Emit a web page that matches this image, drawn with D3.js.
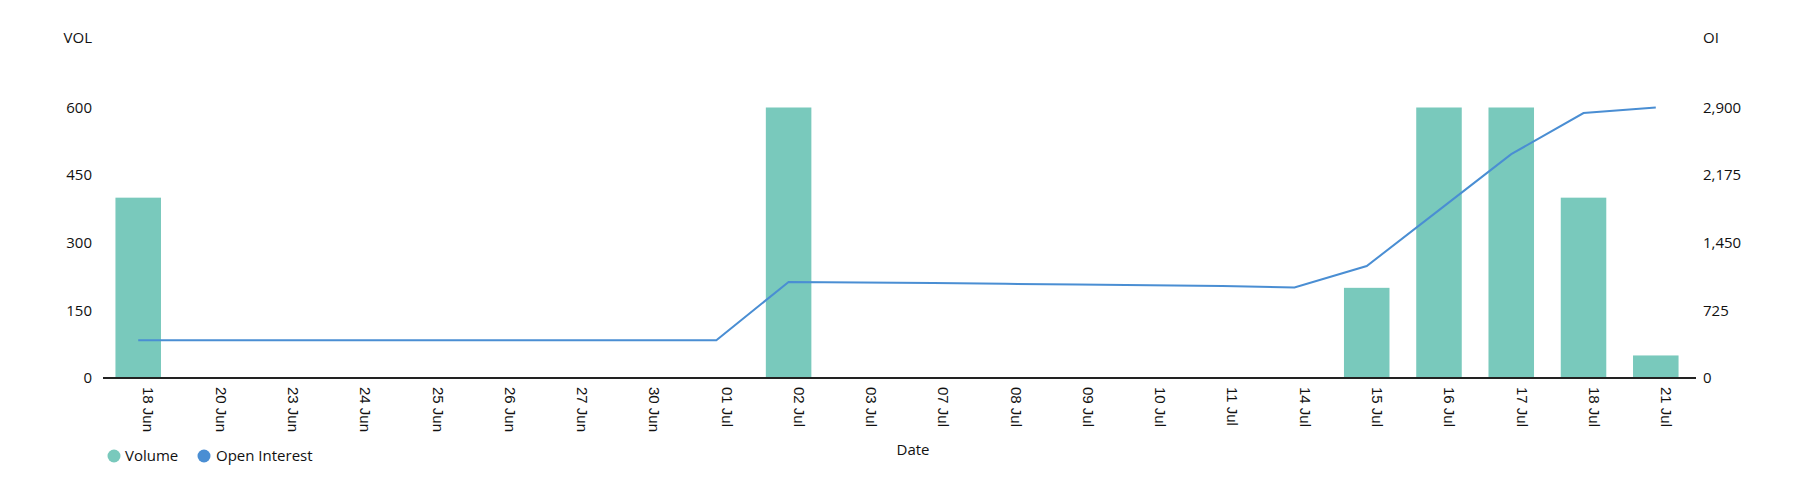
<!DOCTYPE html>
<html>
<head>
<meta charset="utf-8">
<script src="https://cdn.jsdelivr.net/npm/d3@7"></script>
<style>
  html, body { margin: 0; padding: 0; background: #fff; }
  svg { display: block; font-family: "Open Sans", sans-serif; }
</style>
</head>
<body>
<svg id="chart" width="1800" height="480"></svg>
<script>
const categories = ["18 Jun","20 Jun","23 Jun","24 Jun","25 Jun","26 Jun","27 Jun","30 Jun","01 Jul","02 Jul","03 Jul","07 Jul","08 Jul","09 Jul","10 Jul","11 Jul","14 Jul","15 Jul","16 Jul","17 Jul","18 Jul","21 Jul"];
const volume = [400,0,0,0,0,0,0,0,0,600,0,0,0,0,0,0,0,200,600,600,400,50];
const openInterest = [405,405,405,405,405,405,405,405,405,1030,1025,1018,1010,1002,995,985,970,1200,1800,2400,2840,2900];
const volTicks = [0,150,300,450,600];
const oiTicks = [0,725,1450,2175,2900];

const svg = d3.select("#chart");
const volColor = "#79c9bc";
const oiColor = "#4a8ed3";

const x = d3.scaleBand().domain(categories).range([101, 1693]).paddingInner(0.37).paddingOuter(0.2);
const yL = d3.scaleLinear().domain([0, 600]).range([378, 107.5]);
const yR = d3.scaleLinear().domain([0, 2900]).range([378, 107.5]);

// bars
svg.append("g").selectAll("rect").data(categories).join("rect")
  .attr("x", d => x(d))
  .attr("width", x.bandwidth())
  .attr("y", (d,i) => yL(volume[i]))
  .attr("height", (d,i) => yL(0) - yL(volume[i]))
  .attr("fill", volColor);

// line
const line = d3.line()
  .x((d,i) => x(categories[i]) + x.bandwidth()/2)
  .y(d => yR(d));
svg.append("path").datum(openInterest)
  .attr("d", line)
  .attr("fill", "none")
  .attr("stroke", oiColor)
  .attr("stroke-width", 2);

// left axis
const axL = d3.axisLeft(yL).tickValues(volTicks).tickSize(0).tickPadding(0).tickFormat(d3.format(","));
const gL = svg.append("g").attr("transform", "translate(92,0)").call(axL);
gL.select(".domain").remove();
gL.selectAll("text").attr("font-size", 15).attr("font-family", "Open Sans").attr("fill", "#111").attr("dy", "0.32em");

// right axis
const axR = d3.axisRight(yR).tickValues(oiTicks).tickSize(0).tickPadding(0).tickFormat(d3.format(","));
const gR = svg.append("g").attr("transform", "translate(1703,0)").call(axR);
gR.select(".domain").remove();
gR.selectAll("text").attr("font-size", 15).attr("font-family", "Open Sans").attr("fill", "#111").attr("dy", "0.32em");

// axis titles
svg.append("text").attr("x", 92).attr("y", 38).attr("dy", "0.35em").attr("text-anchor", "end")
  .attr("font-size", 15).attr("fill", "#111").text("VOL");
svg.append("text").attr("x", 1703).attr("y", 38).attr("dy", "0.35em").attr("text-anchor", "start")
  .attr("font-size", 15).attr("fill", "#111").text("OI");

// bottom axis
const axB = d3.axisBottom(x).tickSize(0).tickPadding(0);
const gB = svg.append("g").attr("transform", "translate(0,378)").call(axB);
gB.select(".domain").remove();
gB.selectAll(".tick text")
  .attr("font-size", 15).attr("fill", "#111")
  .attr("text-anchor", "start")
  .attr("transform", "rotate(90)")
  .attr("x", 9).attr("y", 0).attr("dy", "-0.35em");
svg.append("line").attr("x1", 103).attr("x2", 1696).attr("y1", 378).attr("y2", 378)
  .attr("stroke", "#222").attr("stroke-width", 2);

svg.append("text").attr("x", 913).attr("y", 450).attr("dy", "0.35em").attr("text-anchor", "middle")
  .attr("font-size", 15).attr("fill", "#111").text("Date");

// legend
const legend = [{name: "Volume", color: volColor, cx: 114, tx: 125}, {name: "Open Interest", color: oiColor, cx: 204, tx: 216}];
const lg = svg.append("g");
lg.selectAll("circle").data(legend).join("circle")
  .attr("cx", d => d.cx).attr("cy", 456).attr("r", 6.5).attr("fill", d => d.color);
lg.selectAll("text").data(legend).join("text")
  .attr("x", d => d.tx).attr("y", 456).attr("dy", "0.35em")
  .attr("font-size", 15).attr("fill", "#111").text(d => d.name);
</script>
</body>
</html>
